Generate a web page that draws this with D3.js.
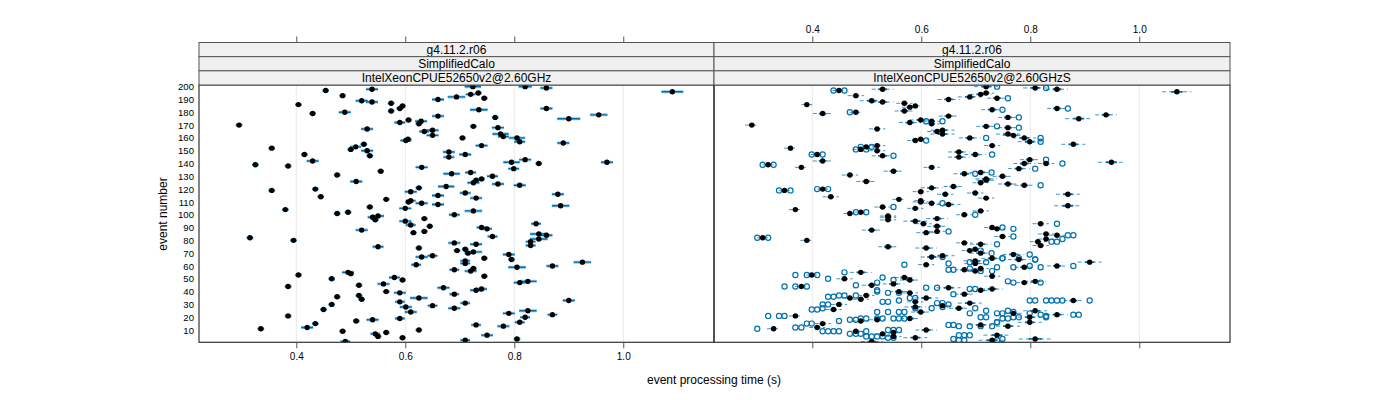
<!DOCTYPE html>
<html><head><meta charset="utf-8">
<script src="https://cdn.jsdelivr.net/npm/d3@7"></script>
<style>
body{margin:0;background:#fff}
svg{display:block}
text{font-family:"Liberation Sans",Arial,Helvetica,sans-serif;fill:#000}
</style>
</head><body>
<svg id="chart" width="1400" height="400"></svg>
<script>
// ---------------- data ----------------
const stripTop = ["g4.11.2.r06", "g4.11.2.r06"];
const stripMid = ["SimplifiedCalo", "SimplifiedCalo"];
const stripBot = ["IntelXeonCPUE52650v2@2.60GHz", "IntelXeonCPUE52650v2@2.60GHzS"];
const xTicks = [0.4, 0.6, 0.8, 1.0];
const yTicks = [10,20,30,40,50,60,70,80,90,100,110,120,130,140,150,160,170,180,190,200];

// left panel: event number, processing time (s), uncertainty (ms)
const leftEvent = [200,200,199,196,197,198,193,189,188,190,192,194,195,191,186,187,183,185,181,179,180,183,182,177,176,175,178,170,174,172,173,171,167,169,168,165,166,162,163,161,160,160,157,158,159,154,156,152,155,153,151,150,146,147,142,149,145,147,139,138,141,143,140,141,136,137,134,131,132,133,
126,119,120,114,104,101,102,106,112,99,98,96,88,82,80,75,118,121,110,111,109,105,95,92,86,97,91,87,74,67,68,115,108,122,117,113,103,100,125,127,128,130,124,123,90,89,83,78,77,72,73,70,71,66,69,65,116,107,93,85,84,81,79,76,
64,62,63,61,57,56,58,59,60,53,50,55,54,51,49,46,45,44,52,47,48,43,41,42,40,39,38,37,36,34,35,32,33,30,28,29,31,27,26,24,25,23,22,21,20,18,19,17,16,15,12,11,14,13,10,9,8,7,5,6,4,3,2,1];
const leftTime = [0.724,0.820,0.859,1.090,0.454,0.539,0.485,0.520,0.539,0.660,0.694,0.720,0.734,0.745,0.404,0.574,0.590,0.595,0.574,0.430,0.489,0.859,0.735,0.660,0.765,0.900,0.955,0.295,0.606,0.590,0.629,0.625,0.530,0.725,0.770,0.635,0.650,0.650,0.775,0.780,0.705,0.805,0.810,0.601,0.605,0.740,0.890,0.355,0.524,0.509,0.500,0.530,0.535,0.415,0.430,0.680,0.680,0.710,0.325,0.385,0.795,0.820,0.845,0.970,0.799,0.630,0.555,0.475,0.685,0.720,
0.510,0.355,0.435,0.445,0.380,0.475,0.495,0.535,0.565,0.550,0.540,0.545,0.520,0.315,0.395,0.550,0.610,0.625,0.606,0.610,0.630,0.600,0.600,0.610,0.615,0.635,0.645,0.635,0.625,0.630,0.650,0.660,0.660,0.675,0.710,0.730,0.725,0.690,0.725,0.730,0.740,0.760,0.770,0.810,0.740,0.750,0.760,0.690,0.730,0.695,0.710,0.715,0.725,0.745,0.790,0.795,0.880,0.885,0.840,0.845,0.859,0.845,0.830,0.830,
0.710,0.710,0.925,0.620,0.690,0.720,0.725,0.805,0.870,0.404,0.465,0.495,0.500,0.580,0.595,0.560,0.515,0.385,0.745,0.810,0.825,0.670,0.730,0.740,0.565,0.590,0.690,0.515,0.475,0.520,0.625,0.590,0.900,0.465,0.601,0.650,0.710,0.690,0.450,0.610,0.825,0.790,0.870,0.385,0.820,0.540,0.590,0.510,0.810,0.435,0.420,0.335,0.730,0.780,0.625,0.485,0.565,0.545,0.550,0.750,0.595,0.805,0.710,0.490];
const leftErrMs = [15,12,11,20,6,11,6,11,11,11,16,9,6,6,6,6,6,6,6,6,11,11,16,11,6,21,16,6,6,10,11,6,11,6,11,9,11,11,15,10,6,15,10,10,6,11,11,6,6,10,6,11,6,6,11,11,10,11,6,6,15,11,6,11,10,11,6,6,15,10,
11,6,6,6,6,6,6,6,6,11,9,6,11,6,6,10,11,6,6,9,11,11,11,9,6,6,6,6,6,11,9,11,11,15,10,11,16,10,11,6,6,10,11,11,9,9,9,11,11,6,6,6,16,6,11,6,11,16,9,16,11,16,9,9,
9,9,16,9,9,11,6,16,11,6,6,11,6,10,6,11,6,6,6,11,16,11,11,10,6,11,9,6,6,6,16,9,11,6,11,9,9,11,6,11,16,11,9,6,9,11,9,6,9,6,11,6,9,11,6,6,6,9,6,11,6,6,9,9];

// right panel: event number, processing time (s), spread (ms)
const rightEvent = [200,199,198,196,197,198,193,189,188,190,192,194,195,191,186,187,184,185,181,179,180,183,182,177,176,175,178,170,174,172,173,171,167,169,168,165,166,163,163,162,160,160,157,158,159,154,155,152,154,153,151,150,146,147,142,149,145,147,139,137,140,143,140,141,136,137,134,
131,132,133,126,119,120,114,104,101,102,106,112,99,98,96,88,82,80,75,118,121,110,111,109,105,95,93,86,97,91,87,74,67,68,116,108,122,117,113,103,100,125,127,128,130,124,123,90,89,83,78,77,72,73,70,66,69,65,116,107,93,85,84,81,79,76,
64,62,63,61,57,56,58,59,60,53,50,55,51,49,46,45,44,52,47,48,43,41,42,40,39,38,37,35,34,35,32,33,30,28,29,31,27,26,24,25,23,22,21,20,18,19,17,16,15,12,11,14,13,10,9,8,7,5,6,4,3,2,1];
const rightTime = [0.719,0.809,0.849,1.069,0.449,0.529,0.480,0.509,0.529,0.650,0.689,0.709,0.719,0.739,0.390,0.569,0.579,0.589,0.569,0.419,0.480,0.849,0.730,0.650,0.759,0.889,0.939,0.289,0.599,0.579,0.619,0.619,0.519,0.719,0.759,0.629,0.639,0.639,0.759,0.769,0.689,0.789,0.799,0.589,0.599,0.730,0.879,0.360,0.519,0.499,0.489,0.519,0.529,0.409,0.419,0.669,0.669,0.699,0.319,0.380,0.789,0.799,0.829,0.949,0.779,0.619,0.549,
0.469,0.679,0.709,0.499,0.349,0.419,0.434,0.369,0.469,0.489,0.529,0.559,0.539,0.539,0.539,0.509,0.309,0.390,0.539,0.599,0.619,0.599,0.599,0.619,0.589,0.589,0.604,0.609,0.629,0.629,0.629,0.609,0.619,0.639,0.644,0.650,0.659,0.699,0.719,0.709,0.679,0.709,0.719,0.719,0.749,0.759,0.789,0.730,0.739,0.749,0.679,0.709,0.689,0.699,0.709,0.730,0.769,0.779,0.869,0.869,0.819,0.829,0.849,0.829,0.814,0.819,
0.699,0.699,0.909,0.609,0.679,0.699,0.709,0.789,0.849,0.399,0.459,0.489,0.569,0.579,0.549,0.509,0.380,0.730,0.789,0.809,0.650,0.709,0.730,0.559,0.579,0.679,0.499,0.469,0.489,0.609,0.589,0.879,0.449,0.589,0.639,0.689,0.669,0.439,0.599,0.809,0.769,0.849,0.369,0.799,0.519,0.579,0.489,0.799,0.419,0.409,0.329,0.709,0.759,0.609,0.480,0.549,0.529,0.549,0.739,0.589,0.809,0.730,0.509];
const rightErrMs = [22,22,20,27,12,20,15,22,20,20,22,20,15,18,10,15,15,12,18,18,12,18,20,18,18,25,20,12,20,20,15,15,15,18,18,18,22,22,22,20,20,22,22,15,15,15,22,12,15,15,15,15,20,12,18,20,20,20,10,12,20,18,15,25,20,15,18,
15,20,20,18,10,10,15,12,12,12,15,12,15,15,15,18,10,12,18,15,20,15,12,15,15,22,15,18,20,18,15,20,20,22,15,22,18,15,15,15,15,15,18,20,18,18,18,15,15,15,15,20,15,15,20,20,20,20,22,25,15,15,15,15,15,15,
22,20,22,15,18,18,15,18,18,10,15,20,18,18,20,18,12,15,15,20,22,20,20,18,15,18,15,15,15,22,15,18,15,20,18,22,18,15,18,22,18,20,12,22,15,18,15,22,15,15,12,22,22,20,15,15,15,15,25,22,30,25,20];

// right panel: individual repeat measurements [event, time (s)]
const repeatRuns = [
[200,0.739],[199,0.829],[197,0.439],[197,0.459],[191,0.759],[180,0.469],[183,0.869],[182,0.749],[176,0.779],[173,0.609],[173,0.639],[169,0.739],[168,0.779],[160,0.719],[160,0.819],[157,0.819],[158,0.609],[153,0.489],[153,0.509],[151,0.480],[151,0.499],[146,0.549],[147,0.399],[147,0.419],[147,0.730],[139,0.309],[139,0.329],[143,0.829],[140,0.859],[136,0.809],[133,0.729],
[132,0.699],[119,0.339],[119,0.360],[120,0.409],[120,0.429],[102,0.480],[102,0.499],[106,0.549],[82,0.299],[82,0.319],[109,0.639],[87,0.650],[100,0.699],[123,0.819],[90,0.749],[89,0.769],[83,0.769],[77,0.739],[72,0.709],[70,0.729],[66,0.749],[69,0.799],[65,0.809],[93,0.849],[84,0.869],[84,0.879],[79,0.839],[79,0.849],[81,0.859],
[67,0.639],[66,0.749],[66,0.779],[65,0.809],[62,0.650],[63,0.689],[63,0.719],[61,0.569],[60,0.879],[57,0.650],[57,0.659],[58,0.689],[56,0.709],[59,0.739],[59,0.769],[59,0.819],[60,0.799],[56,0.730],
[53,0.369],[53,0.390],[53,0.409],[55,0.459],[50,0.429],[51,0.529],[49,0.549],[47,0.519],
[48,0.759],[47,0.769],[47,0.819],
[44,0.349],[44,0.369],[44,0.390],[45,0.480],[40,0.519],[43,0.609],[43,0.629],[42,0.689],[42,0.699],
[39,0.539],[39,0.559],[35,0.579],[35,0.589],[38,0.659],[36,0.429],[36,0.439],[37,0.449],[37,0.459],[37,0.480],[41,0.519],
[32,0.529],[32,0.539],[33,0.559],[31,0.629],[31,0.639],[30,0.650],[33,0.799],[33,0.809],[33,0.829],[33,0.839],[33,0.849],[33,0.859],[33,0.909],
[26,0.399],[26,0.409],[30,0.419],[30,0.429],[27,0.419],[24,0.519],[24,0.539],[24,0.559],[24,0.569],[27,0.589],[27,0.619],[28,0.639],[27,0.699],[23,0.689],[25,0.719],[23,0.739],[23,0.749],[25,0.759],[24,0.769],[20,0.779],[22,0.819],[20,0.829],[22,0.879],[22,0.889],
[21,0.319],[21,0.339],[21,0.349],[17,0.449],[18,0.469],[18,0.480],[19,0.489],[19,0.499],[19,0.519],[19,0.529],[19,0.549],[19,0.559],[19,0.569],[20,0.709],[20,0.719],[16,0.739],[19,0.749],[19,0.759],[20,0.769],[23,0.799],[21,0.829],
[11,0.299],[12,0.369],[12,0.380],[15,0.390],[15,0.399],[9,0.419],[9,0.429],[9,0.439],[9,0.449],[7,0.469],[7,0.480],[7,0.489],[9,0.499],[10,0.539],[10,0.549],[10,0.559],[14,0.650],[14,0.659],[13,0.669],[13,0.689],[13,0.709],[13,0.730],[16,0.739],
[5,0.499],[5,0.509],[5,0.519],[5,0.529],[4,0.539],[4,0.549],[6,0.669],[6,0.679],[6,0.689],[3,0.659],[2,0.669],[2,0.679],[2,0.739],[3,0.749]
];

// ---------------- layout ----------------
const svg = d3.select("#chart");
const panelTop = 85, panelBottom = 342.3;
const stripTopY = 42.5, stripH = (panelTop - stripTopY) / 3;
const xDomain = [0.2215, 1.1665];
const panels = [
  {x0: 199, x1: 714},
  {x0: 714, x1: 1230}
];
panels[0].x = d3.scaleLinear().domain(xDomain).range([199, 714]);
panels[1].x = d3.scaleLinear().domain(xDomain).range([715, 1230]);
const y = d3.scaleLinear().domain([0.4, 201.3]).range([panelBottom, panelTop]);

const BLUE = "#0072b2", BLUE_LIGHT = "#8fc2e6";
const frameCol = "#333";

const leftData = leftEvent.map((e, i) => ({e, t: leftTime[i], err: (leftErrMs[i] || 6) / 1000}));
const rightData = rightEvent.map((e, i) => ({e, t: rightTime[i], err: (rightErrMs[i] || 15) / 1000}));

panels.forEach((p, pi) => {
  const x = p.x;
  const g = svg.append("g");
  // grid
  g.selectAll("line.grid").data(xTicks).join("line")
    .attr("x1", d => x(d)).attr("x2", d => x(d))
    .attr("y1", panelTop).attr("y2", panelBottom)
    .attr("stroke", "#e8e8e8").attr("stroke-width", 1);

  const clip = "clip" + pi;
  svg.append("clipPath").attr("id", clip).append("rect")
    .attr("x", p.x0).attr("y", panelTop).attr("width", p.x1 - p.x0).attr("height", panelBottom - panelTop);
  const dg = g.append("g").attr("clip-path", `url(#${clip})`);

  if (pi === 0) {
    dg.selectAll("line.halo").data(leftData).join("line")
      .attr("x1", d => x(d.t - d.err)).attr("x2", d => x(d.t + d.err))
      .attr("y1", d => y(d.e)).attr("y2", d => y(d.e))
      .attr("stroke", BLUE_LIGHT).attr("stroke-width", 3);
    dg.selectAll("line.bar").data(leftData).join("line")
      .attr("x1", d => x(d.t - d.err)).attr("x2", d => x(d.t + d.err))
      .attr("y1", d => y(d.e)).attr("y2", d => y(d.e))
      .attr("stroke", BLUE).attr("stroke-width", 1.4);
    dg.selectAll("circle.dot").data(leftData).join("circle")
      .attr("cx", d => x(d.t)).attr("cy", d => y(d.e)).attr("r", 2.7)
      .attr("fill", "#000");
  } else {
    dg.selectAll("line.dash").data(rightData).join("line")
      .attr("x1", d => x(d.t - d.err)).attr("x2", d => x(d.t + d.err))
      .attr("y1", d => y(d.e)).attr("y2", d => y(d.e))
      .attr("stroke", BLUE).attr("stroke-width", 1).attr("stroke-dasharray", "4,3")
      .attr("stroke-opacity", 0.75);
    dg.selectAll("line.core").data(rightData).join("line")
      .attr("x1", d => x(d.t - d.err * 0.4)).attr("x2", d => x(d.t + d.err * 0.4))
      .attr("y1", d => y(d.e)).attr("y2", d => y(d.e))
      .attr("stroke", BLUE).attr("stroke-width", 1.8);
    dg.selectAll("circle.run").data(repeatRuns).join("circle")
      .attr("cx", d => x(d[1])).attr("cy", d => y(d[0])).attr("r", 2.6)
      .attr("fill", "none").attr("stroke", BLUE).attr("stroke-width", 1.2);
    dg.selectAll("circle.dot").data(rightData).join("circle")
      .attr("cx", d => x(d.t)).attr("cy", d => y(d.e)).attr("r", 2.7)
      .attr("fill", "#000");
  }

  // frame
  g.append("rect").attr("x", p.x0).attr("y", panelTop)
    .attr("width", p.x1 - p.x0).attr("height", panelBottom - panelTop)
    .attr("fill", "none").attr("stroke", frameCol).attr("stroke-width", 1.2);

  // strips
  [stripTop[pi], stripMid[pi], stripBot[pi]].forEach((lab, si) => {
    const sy = stripTopY + si * stripH;
    g.append("rect").attr("x", p.x0).attr("y", sy).attr("width", p.x1 - p.x0).attr("height", stripH)
      .attr("fill", "#f0f0f0").attr("stroke", "#555").attr("stroke-width", 1);
    g.append("text").attr("x", (p.x0 + p.x1) / 2).attr("y", sy + stripH / 2 + 4.2)
      .attr("text-anchor", "middle").attr("font-size", 12).text(lab);
  });

  // axes
  const bottom = d3.axisBottom(x).tickValues(xTicks).tickSize(6).tickPadding(5)
    .tickFormat(pi === 0 ? d3.format(".1f") : () => "");
  const top = d3.axisTop(x).tickValues(xTicks).tickSize(6).tickPadding(4)
    .tickFormat(pi === 1 ? d3.format(".1f") : () => "");
  const gb = svg.append("g").attr("transform", `translate(0,${panelBottom})`).call(bottom);
  const gt = svg.append("g").attr("transform", `translate(0,${stripTopY})`).call(top);
  [gb, gt].forEach(a => {
    a.select(".domain").remove();
    a.selectAll(".tick line").attr("stroke", "#555");
    a.selectAll(".tick text").attr("font-size", 10).attr("fill", "#000")
      .style("font-family", '"Liberation Sans",Arial,sans-serif');
  });
});

// y axis
const gy = svg.append("g").attr("transform", `translate(199,0)`)
  .call(d3.axisLeft(y).tickValues(yTicks).tickSize(0).tickPadding(5));
gy.select(".domain").remove();
gy.selectAll(".tick text").attr("font-size", 9.6).attr("fill", "#000")
  .style("font-family", '"Liberation Sans",Arial,sans-serif');

// titles
svg.append("text").attr("x", 714).attr("y", 384).attr("text-anchor", "middle")
  .attr("font-size", 12).text("event processing time (s)");
svg.append("text").attr("transform", "translate(167,214) rotate(-90)")
  .attr("text-anchor", "middle").attr("font-size", 12).text("event number");
</script>
</body></html>
